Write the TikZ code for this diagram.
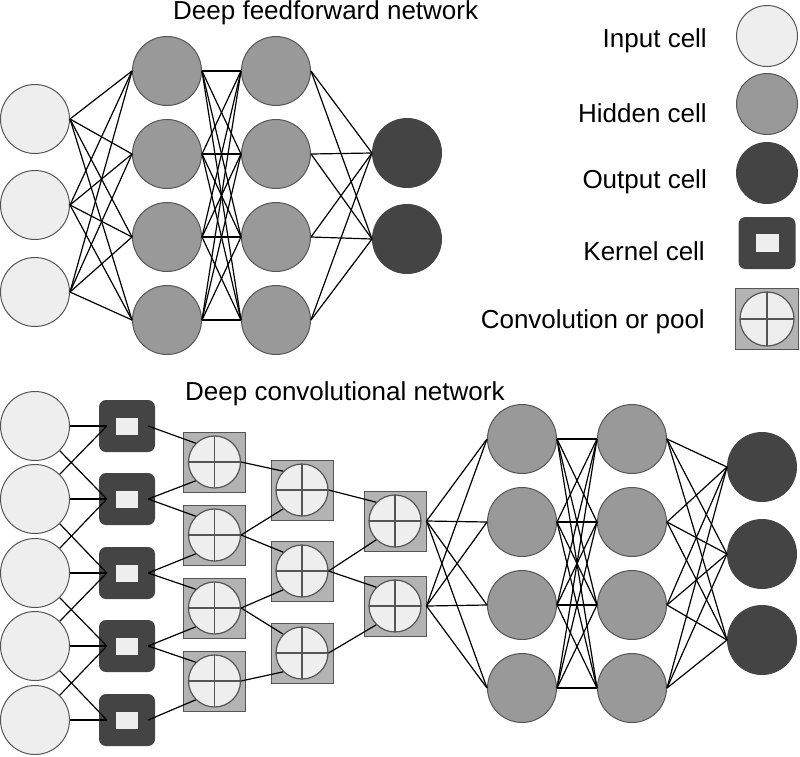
\documentclass[tikz,border=0pt]{standalone}
\usepackage{fontspec}
\setmainfont{Liberation Sans}
\definecolor{incol}{HTML}{EEEEEE}
\definecolor{hidcol}{HTML}{999999}
\definecolor{outcol}{HTML}{444444}
\definecolor{convcol}{HTML}{B3B3B3}
\definecolor{strokegray}{HTML}{555555}
\begin{document}
\begin{tikzpicture}[x=1pt,y=-1pt,
  incell/.style={circle,draw=strokegray,line width=1pt,fill=incol,minimum size=69pt,inner sep=0pt},
  hidcell/.style={circle,draw=strokegray,line width=1pt,fill=hidcol,minimum size=69pt,inner sep=0pt},
  outcell/.style={circle,draw=outcol,line width=1pt,fill=outcol,minimum size=69pt,inner sep=0pt},
  kernbox/.style={rectangle,rounded corners=7pt,fill=outcol,minimum width=56pt,minimum height=52pt,inner sep=0pt},
  kerninner/.style={rectangle,fill=incol,minimum width=22pt,minimum height=17pt,inner sep=0pt},
  convbox/.style={rectangle,draw=strokegray,line width=1pt,fill=convcol,minimum width=62pt,minimum height=60pt,inner sep=0pt},
  convcirc/.style={circle,draw=strokegray,line width=1.2pt,fill=incol,minimum size=52pt,inner sep=0pt,
     path picture={\draw[strokegray,line width=1.2pt] (path picture bounding box.north) -- (path picture bounding box.south) (path picture bounding box.west) -- (path picture bounding box.east);}},
  link/.style={black,line width=1.2pt},
  lbl/.style={font=\fontsize{26}{30}\selectfont,inner sep=0pt}
]
\useasboundingbox (0,0) rectangle (800,756);

% ---------- titles ----------
\node[lbl,anchor=base west] (t1) at (173,19) {Deep feedforward network};
\node[lbl,anchor=base west] (t2) at (185,400) {Deep convolutional network};

% ---------- legend ----------
\node[lbl,anchor=base east] (l1) at (707,47) {Input cell};
\node[lbl,anchor=base east] (l2) at (707,122) {Hidden cell};
\node[lbl,anchor=base east] (l3) at (707,188) {Output cell};
\node[lbl,anchor=base east] (l4) at (705,260) {Kernel cell};
\node[lbl,anchor=base east] (l5) at (705,328) {Convolution or pool};
\node[incell,minimum size=61pt] (lin) at (767,36) {};
\node[hidcell,minimum size=61pt] (lhid) at (767,104) {};
\node[outcell,minimum size=61pt] (lout) at (767,173) {};
\node[kernbox,minimum width=57pt,minimum height=52pt] (lker) at (767,243) {};
\node[kerninner,minimum width=23pt,minimum height=18pt] (lkeri) at (767,243) {};
\node[convbox,minimum width=63pt,minimum height=61pt] (lconv) at (767,319) {};
\node[convcirc,minimum size=54pt] (lconvc) at (767,319) {};

% ---------- deep feedforward network ----------
\foreach \i/\y in {1/119,2/205,3/292} \node[incell] (tin\i) at (35,\y) {};
\foreach \i/\y in {1/71,2/154,3/237,4/320} {
  \node[hidcell] (tha\i) at (167,\y) {};
  \node[hidcell] (thb\i) at (276,\y) {};
}
\foreach \i/\y in {1/153,2/239} \node[outcell] (tout\i) at (407,\y) {};

\foreach \a in {1,2,3} \foreach \b in {1,...,4} \draw[link] (tin\a.east) -- (tha\b.west);
\foreach \a in {1,...,4} \foreach \b in {1,...,4} \draw[link] (tha\a.east) -- (thb\b.west);
\foreach \a in {1,...,4} \foreach \b in {1,2} \draw[link] (thb\a.east) -- (tout\b.west);

% ---------- deep convolutional network ----------
\foreach \i/\y in {1/426,2/499,3/573,4/646,5/720} {
  \node[incell] (bin\i) at (35,\y) {};
  \node[kernbox] (bk\i) at (127,\y) {};
  \node[kerninner] (bki\i) at (127,\y) {};
}
\foreach \i/\y in {1/462,2/535,3/608,4/681} {
  \node[convbox] (ca\i) at (214.5,\y) {};
  \node[convcirc] (cca\i) at (214.5,\y) {};
}
\foreach \i/\y in {1/490,2/571,3/653} {
  \node[convbox] (cb\i) at (302,\y) {};
  \node[convcirc] (ccb\i) at (302,\y) {};
}
\foreach \i/\y in {1/521,2/606} {
  \node[convbox] (cc\i) at (395,\y) {};
  \node[convcirc] (ccc\i) at (395,\y) {};
}
\foreach \i/\y in {1/439,2/522,3/605,4/688} {
  \node[hidcell] (bha\i) at (522,\y) {};
  \node[hidcell] (bhb\i) at (632,\y) {};
}
\foreach \i/\y in {1/467,2/554,3/640} \node[outcell] (bout\i) at (762,\y) {};

% input -> kernel
\foreach \i in {1,...,5} \draw[link] (bin\i.east) -- ([xshift=8pt]bk\i.west);
\foreach \i in {1,...,4} {
  \pgfmathtruncatemacro\j{\i+1}
  \draw[link] (bin\i.-45) -- ([xshift=8pt]bk\j.west);
  \draw[link] (bin\j.45) -- ([xshift=8pt]bk\i.west);
}
% kernel -> conv 1
\foreach \i in {1,...,4} {
  \pgfmathtruncatemacro\j{\i+1}
  \draw[link] ([xshift=-7pt]bk\i.east) -- (cca\i.135);
  \draw[link] ([xshift=-7pt]bk\j.east) -- (cca\i.225);
}
% conv 1 -> conv 2
\foreach \i in {1,2,3} {
  \pgfmathtruncatemacro\j{\i+1}
  \draw[link] (cca\i.east) -- (ccb\i.135);
  \draw[link] (cca\j.east) -- (ccb\i.225);
}
% conv 2 -> conv 3
\foreach \i in {1,2} {
  \pgfmathtruncatemacro\j{\i+1}
  \draw[link] (ccb\i.east) -- (ccc\i.135);
  \draw[link] (ccb\j.east) -- (ccc\i.225);
}
% conv 3 -> hidden -> hidden -> output
\foreach \a in {1,2} \foreach \b in {1,...,4} \draw[link] (cc\a.east) -- (bha\b.west);
\foreach \a in {1,...,4} \foreach \b in {1,...,4} \draw[link] (bha\a.east) -- (bhb\b.west);
\foreach \a in {1,...,4} \foreach \b in {1,2,3} \draw[link] (bhb\a.east) -- (bout\b.west);
\end{tikzpicture}
\end{document}
